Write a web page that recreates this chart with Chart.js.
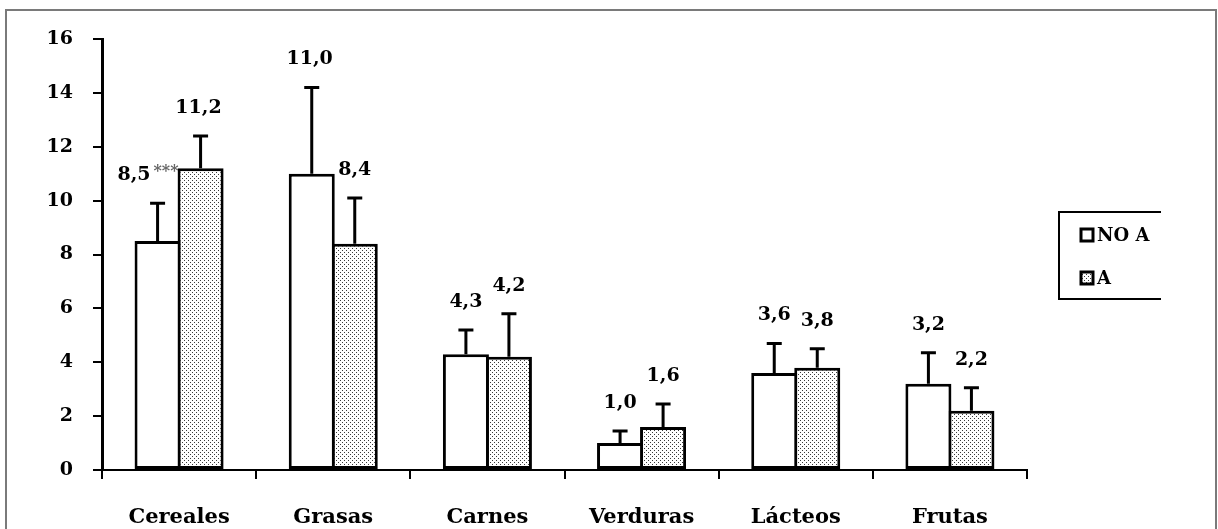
<!DOCTYPE html>
<html>
<head>
<meta charset="utf-8">
<script src="https://cdn.jsdelivr.net/npm/chart.js@4"></script>
<style>
  html, body { margin: 0; padding: 0; background: #fff; }
  canvas { display: block; }
</style>
</head>
<body>
<canvas id="foodChart" width="1218" height="529"></canvas>
<script>
// data
const categories = ['Cereales', 'Grasas', 'Carnes', 'Verduras', 'Lácteos', 'Frutas'];
const seriesNames = ['NO A', 'A'];
const noAValues = [8.5, 11.0, 4.3, 1.0, 3.6, 3.2];
const noAErrors = [1.4, 3.2, 0.9, 0.45, 1.1, 1.15];
const aValues = [11.2, 8.4, 4.2, 1.6, 3.8, 2.2];
const aErrors = [1.2, 1.7, 1.6, 0.85, 0.7, 0.85];
const noAMarks = ['***', '', '', '', '', ''];
const aMarks = ['', '', '', '', '', ''];
const yTicks = [0, 2, 4, 6, 8, 10, 12, 14, 16];

const serif = "'DejaVu Serif', 'Liberation Serif', serif";

document.addEventListener('DOMContentLoaded', function() {
    const canvas = document.getElementById('foodChart');
    const ctx = canvas.getContext('2d');

    // dotted fill for the "A" bars
    function dotPattern() {
        const tile = document.createElement('canvas');
        tile.width = 4;
        tile.height = 4;
        const t = tile.getContext('2d');
        t.fillStyle = '#fff';
        t.fillRect(0, 0, 4, 4);
        t.fillStyle = '#3a3a3a';
        t.fillRect(0, 0, 1, 1);
        t.fillRect(2, 2, 1, 1);
        return ctx.createPattern(tile, 'repeat');
    }
    const dots = dotPattern();

    const errorSets = [noAErrors, aErrors];
    const markSets = [noAMarks, aMarks];

    // gray frame round the whole figure
    const framePlugin = {
        id: 'frame',
        beforeDraw(chart) {
            const c = chart.ctx;
            c.save();
            c.fillStyle = '#fff';
            c.fillRect(0, 0, chart.width, chart.height);
            c.strokeStyle = '#7a7a7a';
            c.lineWidth = 2;
            c.strokeRect(6, 10, 1210, 600);
            c.restore();
        }
    };

    // upward error bars and value labels
    const errorPlugin = {
        id: 'errorBars',
        afterDatasetsDraw(chart) {
            const c = chart.ctx;
            const y = chart.scales.y;
            c.save();
            chart.data.datasets.forEach(function(ds, di) {
                const meta = chart.getDatasetMeta(di);
                meta.data.forEach(function(bar, i) {
                    const top = y.getPixelForValue(ds.data[i] + errorSets[di][i]);
                    c.strokeStyle = '#000';
                    c.lineWidth = 3;
                    c.beginPath();
                    c.moveTo(bar.x, bar.y);
                    c.lineTo(bar.x, top);
                    c.moveTo(bar.x - 7.5, top);
                    c.lineTo(bar.x + 7.5, top);
                    c.stroke();

                    const text = ds.data[i].toFixed(1).replace('.', ',');
                    const mark = markSets[di][i];
                    c.fillStyle = '#000';
                    c.textBaseline = 'middle';
                    c.font = 'bold 19px ' + serif;
                    const w1 = c.measureText(text).width;
                    c.font = 'bold 16px ' + serif;
                    const w2 = mark ? c.measureText(mark).width + 3 : 0;
                    const total = w1 + w2;
                    let left = bar.x - total / 2;
                    if (total > bar.width) left = bar.x + bar.width / 2 - total - 2;
                    const ly = top - 28;
                    c.textAlign = 'left';
                    c.font = 'bold 19px ' + serif;
                    c.fillText(text, left, ly);
                    if (mark) {
                        c.font = 'bold 16px ' + serif;
                        c.fillStyle = '#666';
                        c.fillText(mark, left + w1 + 3, ly - 3);
                    }
                });
            });
            c.restore();
        }
    };

    // boxed legend on the right
    const legendPlugin = {
        id: 'boxLegend',
        afterDraw(chart) {
            const c = chart.ctx;
            c.save();
            c.strokeStyle = '#000';
            c.lineWidth = 2;
            c.beginPath();
            c.moveTo(1161, 212);
            c.lineTo(1059, 212);
            c.lineTo(1059, 299);
            c.lineTo(1161, 299);
            c.stroke();
            chart.data.datasets.forEach(function(ds, di) {
                const cy = 235 + di * 43;
                c.fillStyle = ds.backgroundColor;
                c.fillRect(1081, cy - 6, 12, 12);
                c.lineWidth = 3;
                c.strokeRect(1081, cy - 6, 12, 12);
                c.fillStyle = '#000';
                c.font = 'bold 18px ' + serif;
                c.textAlign = 'left';
                c.textBaseline = 'middle';
                c.fillText(ds.label, 1097, cy + 1);
            });
            c.restore();
        }
    };

    // bars overlap by one border width so the pair shares a single line
    const barShape = {
        borderColor: '#000',
        borderWidth: 3,
        borderSkipped: false,
        categoryPercentage: 0.558,
        barPercentage: 1.07,
        inflateAmount: 0
    };

    new Chart(ctx, {
        type: 'bar',
        data: {
            labels: categories,
            datasets: [Object.assign({
                label: seriesNames[0],
                data: noAValues,
                backgroundColor: '#fff'
            }, barShape), Object.assign({
                label: seriesNames[1],
                data: aValues,
                backgroundColor: dots
            }, barShape)]
        },
        plugins: [framePlugin, errorPlugin, legendPlugin],
        options: {
            responsive: false,
            animation: false,
            devicePixelRatio: 1,
            layout: {
                padding: { left: 0, top: 39, right: 191, bottom: 0 }
            },
            plugins: {
                legend: { display: false },
                tooltip: { enabled: false }
            },
            scales: {
                x: {
                    offset: true,
                    grid: {
                        offset: true,
                        drawOnChartArea: false,
                        drawTicks: true,
                        tickLength: 9,
                        color: '#000',
                        lineWidth: 2
                    },
                    border: { display: true, color: '#000', width: 2 },
                    ticks: {
                        color: '#000',
                        padding: 26,
                        maxRotation: 0,
                        font: { family: serif, size: 21, weight: 'bold' }
                    },
                    afterFit(scale) { scale.height = 59; }
                },
                y: {
                    min: 0,
                    max: 16,
                    afterBuildTicks(scale) {
                        scale.ticks = yTicks.map(function(v) { return { value: v }; });
                    },
                    grid: {
                        drawOnChartArea: false,
                        drawTicks: true,
                        tickLength: 9,
                        color: '#000',
                        lineWidth: 2
                    },
                    border: { display: true, color: '#000', width: 3 },
                    ticks: {
                        color: '#000',
                        padding: 20,
                        font: { family: serif, size: 19, weight: 'bold' }
                    },
                    afterFit(scale) { scale.width = 102; }
                }
            }
        }
    });
});
</script>
</body>
</html>
